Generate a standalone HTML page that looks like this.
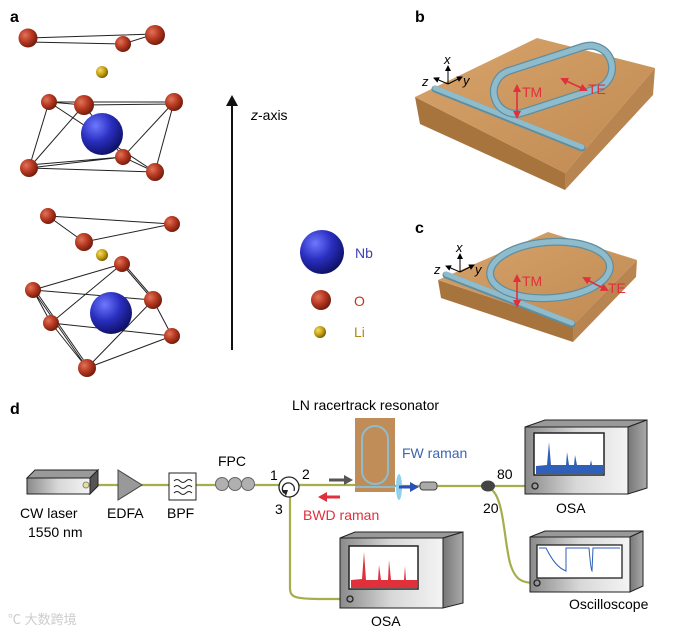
<!DOCTYPE html>
<html><head><meta charset="utf-8"><style>
html,body{margin:0;padding:0;background:#fff;}
svg{display:block;font-family:"Liberation Sans",Arial,sans-serif;}
</style></head><body>
<svg width="676" height="632" viewBox="0 0 676 632" xmlns="http://www.w3.org/2000/svg">
<defs>
<radialGradient id="gO" cx="0.35" cy="0.35" r="0.7"><stop offset="0" stop-color="#e0745a"/><stop offset="0.5" stop-color="#b83a22"/><stop offset="1" stop-color="#6e1a0c"/></radialGradient>
<radialGradient id="gNb" cx="0.35" cy="0.3" r="0.75"><stop offset="0" stop-color="#6e78ff"/><stop offset="0.5" stop-color="#2a2fc0"/><stop offset="1" stop-color="#0c0f60"/></radialGradient>
<radialGradient id="gLi" cx="0.35" cy="0.35" r="0.7"><stop offset="0" stop-color="#f4dc60"/><stop offset="0.6" stop-color="#c09a10"/><stop offset="1" stop-color="#6e5800"/></radialGradient>
<linearGradient id="gFront" x1="0" y1="0" x2="1" y2="0"><stop offset="0" stop-color="#8a8a8a"/><stop offset="0.5" stop-color="#d8d8d8"/><stop offset="1" stop-color="#f4f4f4"/></linearGradient>
<linearGradient id="gSide" x1="0" y1="0" x2="1" y2="0"><stop offset="0" stop-color="#777"/><stop offset="1" stop-color="#aaa"/></linearGradient>
<linearGradient id="gTop" x1="0" y1="0" x2="1" y2="1"><stop offset="0" stop-color="#d7a46c"/><stop offset="1" stop-color="#c08a52"/></linearGradient>
<marker id="ar" markerWidth="8" markerHeight="8" refX="6" refY="4" orient="auto" markerUnits="userSpaceOnUse"><path d="M0,0 L8,4 L0,8 z" fill="#e0303c"/></marker>
<marker id="ak" markerWidth="6" markerHeight="6" refX="5" refY="3" orient="auto" markerUnits="userSpaceOnUse"><path d="M0,0 L6,3 L0,6 z" fill="#000"/></marker>
</defs>

<!-- Panel a -->
<text x="10" y="22" font-size="16" font-weight="bold">a</text>
<g stroke="#222" stroke-width="1" fill="none">
<path d="M28,38 L155,34 L123,44 L28,42"/>
<path d="M49,102 L174,102 M49,102 L84,105 L174,104 M29,168 L155,172 M29,168 L123,157 L155,172 M49,102 L29,168 M84,105 L29,168 M174,102 L155,172 M174,102 L123,157 M49,102 L155,172 M84,105 L123,157 M29,165 L123,157"/>
<path d="M48,216 L84,242 L172,224 L48,216"/>
<path d="M122,264 L33,290 M122,264 L153,300 M124,264 L155,300 M122,264 L51,323 M33,290 L153,300 M33,290 L51,323 M33,290 L87,368 M35,290 L89,368 M51,323 L172,336 M153,300 L172,336 M153,300 L87,368 M172,336 L87,368 M51,323 L87,368"/>
</g>
<circle cx="102" cy="134" r="21" fill="url(#gNb)"/>
<circle cx="111" cy="313" r="21" fill="url(#gNb)"/>
<g fill="url(#gO)">
<circle cx="28" cy="38" r="9.5"/><circle cx="155" cy="35" r="10"/><circle cx="123" cy="44" r="8"/>
<circle cx="49" cy="102" r="8"/><circle cx="84" cy="105" r="10"/><circle cx="174" cy="102" r="9"/><circle cx="29" cy="168" r="9"/><circle cx="123" cy="157" r="8"/><circle cx="155" cy="172" r="9"/>
<circle cx="48" cy="216" r="8"/><circle cx="84" cy="242" r="9"/><circle cx="172" cy="224" r="8"/>
<circle cx="122" cy="264" r="8"/><circle cx="33" cy="290" r="8"/><circle cx="153" cy="300" r="9"/><circle cx="51" cy="323" r="8"/><circle cx="172" cy="336" r="8"/><circle cx="87" cy="368" r="9"/>
<circle cx="321" cy="300" r="10"/>
</g>
<g fill="url(#gLi)"><circle cx="102" cy="72" r="6"/><circle cx="102" cy="255" r="6"/><circle cx="320" cy="332" r="6"/></g>
<circle cx="322" cy="252" r="22" fill="url(#gNb)"/>
<text x="355" y="258" font-size="14" fill="#4040b8">Nb</text>
<text x="354" y="306" font-size="14" fill="#b83a22">O</text>
<text x="354" y="337" font-size="14" fill="#b08a10">Li</text>
<line x1="232" y1="350" x2="232" y2="104" stroke="#111" stroke-width="2"/>
<path d="M226,106 L232,95 L238,106 z" fill="#111"/>
<text x="251" y="120" font-size="14"><tspan font-style="italic">z</tspan>-axis</text>

<!-- Panel b -->
<text x="415" y="22" font-size="16" font-weight="bold">b</text>
<path d="M415,97 L565,173 L565,190 L420,124 z" fill="#a8743e"/>
<path d="M565,173 L655,68 L653,95 L565,190 z" fill="#b88450"/>
<path d="M415,97 L537,38 L655,68 L565,173 z" fill="url(#gTop)"/>
<line x1="435" y1="89" x2="582" y2="148" stroke="#5f8ea0" stroke-width="7" stroke-linecap="round"/>
<line x1="435" y1="88" x2="582" y2="147" stroke="#8fbccd" stroke-width="5" stroke-linecap="round"/>
<g transform="rotate(-18 552 80)">
<rect x="492" y="58" width="122" height="44" rx="22" fill="none" stroke="#5f8ea0" stroke-width="8"/>
<rect x="492" y="58" width="122" height="44" rx="22" fill="none" stroke="#8fbccd" stroke-width="5.5"/>
</g>
<g stroke="#000" stroke-width="1" fill="none"><line x1="448" y1="84" x2="448" y2="66" marker-end="url(#ak)"/><line x1="448" y1="84" x2="434" y2="78" marker-end="url(#ak)"/><line x1="448" y1="84" x2="462" y2="77" marker-end="url(#ak)"/></g>
<text x="444" y="64" font-size="13" font-style="italic">x</text>
<text x="422" y="86" font-size="13" font-style="italic">z</text>
<text x="463" y="85" font-size="13" font-style="italic">y</text>
<g stroke="#e0303c" stroke-width="1.6"><line x1="517" y1="92" x2="517" y2="86" marker-end="url(#ar)"/><line x1="517" y1="92" x2="517" y2="117" marker-end="url(#ar)"/><line x1="575" y1="85" x2="562" y2="79" marker-end="url(#ar)"/><line x1="575" y1="85" x2="586" y2="90" marker-end="url(#ar)"/></g>
<text x="522" y="97" font-size="14" fill="#e0303c">TM</text>
<text x="588" y="94" font-size="14" fill="#e0303c">TE</text>

<!-- Panel c -->
<text x="415" y="233" font-size="16" font-weight="bold">c</text>
<path d="M438,280 L573,325 L573,342 L441,298 z" fill="#a8743e"/>
<path d="M573,325 L637,260 L636,277 L573,342 z" fill="#b88450"/>
<path d="M438,280 L548,232 L637,260 L573,325 z" fill="url(#gTop)"/>
<line x1="446" y1="275" x2="572" y2="324" stroke="#5f8ea0" stroke-width="7" stroke-linecap="round"/>
<line x1="446" y1="274" x2="572" y2="323" stroke="#8fbccd" stroke-width="5" stroke-linecap="round"/>
<ellipse cx="550" cy="270" rx="60" ry="28" transform="rotate(-4 550 270)" fill="none" stroke="#5f8ea0" stroke-width="8"/>
<ellipse cx="550" cy="270" rx="60" ry="28" transform="rotate(-4 550 270)" fill="none" stroke="#8fbccd" stroke-width="5.5"/>
<g stroke="#000" stroke-width="1" fill="none"><line x1="460" y1="272" x2="460" y2="254" marker-end="url(#ak)"/><line x1="460" y1="272" x2="446" y2="266" marker-end="url(#ak)"/><line x1="460" y1="272" x2="474" y2="265" marker-end="url(#ak)"/></g>
<text x="456" y="252" font-size="13" font-style="italic">x</text>
<text x="434" y="274" font-size="13" font-style="italic">z</text>
<text x="475" y="274" font-size="13" font-style="italic">y</text>
<g stroke="#e0303c" stroke-width="1.6"><line x1="517" y1="282" x2="517" y2="276" marker-end="url(#ar)"/><line x1="517" y1="282" x2="517" y2="306" marker-end="url(#ar)"/><line x1="595" y1="284" x2="584" y2="278" marker-end="url(#ar)"/><line x1="595" y1="284" x2="607" y2="290" marker-end="url(#ar)"/></g>
<text x="522" y="286" font-size="14" fill="#e0303c">TM</text>
<text x="608" y="293" font-size="14" fill="#e0303c">TE</text>

<!-- Panel d -->
<text x="10" y="414" font-size="16" font-weight="bold">d</text>
<g stroke="#a6ad4a" stroke-width="2.2" fill="none">
<line x1="88" y1="485" x2="355" y2="485"/>
<line x1="395" y1="486" x2="528" y2="486"/>
<path d="M290,497 L290,588 C290,600 298,599 348,599"/>
<path d="M492,490 C504,500 504,540 510,563 C515,580 522,583 535,583"/>
</g>
<!-- laser -->
<path d="M27,478 L35,470 L98,470 L90,478 z" fill="#9a9a9a" stroke="#222" stroke-width="1"/>
<rect x="27" y="478" width="63" height="16" fill="url(#gFront)" stroke="#222" stroke-width="1"/>
<path d="M90,478 L98,470 L98,486 L90,494 z" fill="#555" stroke="#222" stroke-width="1"/>
<circle cx="86" cy="485" r="3" fill="#e8e090" stroke="#888"/>
<text x="20" y="518" font-size="14">CW laser</text>
<text x="28" y="537" font-size="14">1550 nm</text>
<!-- EDFA -->
<path d="M118,470 L142,485 L118,500 z" fill="#999" stroke="#444"/>
<text x="107" y="518" font-size="14">EDFA</text>
<!-- BPF -->
<rect x="169" y="473" width="27" height="27" fill="#fff" stroke="#222"/>
<g stroke="#222" fill="none" stroke-width="1"><path d="M174,481 q3,-3 6,0 t6,0 t6,0"/><path d="M174,487 q3,-3 6,0 t6,0 t6,0"/><path d="M174,493 q3,-3 6,0 t6,0 t6,0"/></g>
<text x="167" y="518" font-size="14">BPF</text>
<!-- FPC -->
<g fill="#b0b0b0" stroke="#666"><circle cx="222" cy="484" r="6.5"/><circle cx="235" cy="484" r="6.5"/><circle cx="248" cy="484" r="6.5"/></g>
<text x="218" y="466" font-size="14">FPC</text>
<!-- circulator -->
<circle cx="289" cy="487" r="10" fill="#fff" stroke="#222" stroke-width="1.3"/>
<path d="M284,493 A6,6 0 1 1 294,491" fill="none" stroke="#222" stroke-width="1.3"/>
<path d="M282,490 L286,496 L288,490 z" fill="#222"/>
<text x="270" y="480" font-size="14">1</text>
<text x="302" y="479" font-size="14">2</text>
<text x="275" y="514" font-size="14">3</text>
<!-- chip -->
<rect x="355" y="418" width="40" height="74" fill="#c08c58"/>
<rect x="362" y="426" width="26" height="58" rx="13" fill="none" stroke="#8fbccd" stroke-width="2"/>
<line x1="355" y1="487" x2="395" y2="487" stroke="#8fbccd" stroke-width="2"/>
<text x="292" y="410" font-size="14">LN racertrack resonator</text>
<path d="M329,480 L346,480" stroke="#555" stroke-width="3"/><path d="M344,475 L353,480 L344,485 z" fill="#555"/>
<path d="M340,497 L325,497" stroke="#e0303c" stroke-width="3"/><path d="M327,492 L318,497 L327,502 z" fill="#e0303c"/>
<text x="303" y="520" font-size="14" fill="#e0303c">BWD raman</text>
<text x="402" y="458" font-size="14" fill="#3c66b0">FW raman</text>
<ellipse cx="399" cy="487" rx="3" ry="13" fill="#8fd0f0"/>
<path d="M399,487 L412,487" stroke="#2a50b8" stroke-width="3"/><path d="M410,482 L419,487 L410,492 z" fill="#2a50b8"/>
<rect x="420" y="482" width="17" height="8" rx="3" fill="#aaa" stroke="#444"/>
<ellipse cx="488" cy="486" rx="7" ry="5.5" fill="#444"/>
<text x="497" y="479" font-size="14">80</text>
<text x="483" y="513" font-size="14">20</text>
<!-- OSA1 -->
<path d="M525,427 L545,420 L647,420 L628,427 z" fill="#999" stroke="#222"/>
<path d="M628,427 L647,420 L647,488 L628,494 z" fill="url(#gSide)" stroke="#222"/>
<rect x="525" y="427" width="103" height="67" fill="url(#gFront)" stroke="#222"/>
<rect x="534" y="433" width="70" height="42" fill="#fff" stroke="#222" stroke-width="1.5"/>
<path d="M536,474 L536,466 L547,465 L549,442 L551,465 L566,465 L567,452 L569,465 L574,465 L575,455 L577,465 L590,465 L591,460 L592,465 L603,465 L603,474 z" fill="#2f5fb8"/>
<circle cx="535" cy="486" r="3" fill="none" stroke="#222" stroke-width="1.3"/>
<text x="556" y="513" font-size="14">OSA</text>
<!-- OSA2 -->
<path d="M340,538 L355,532 L463,532 L443,538 z" fill="#999" stroke="#222"/>
<path d="M443,538 L463,532 L463,603 L443,608 z" fill="url(#gSide)" stroke="#222"/>
<rect x="340" y="538" width="103" height="70" fill="url(#gFront)" stroke="#222"/>
<rect x="349" y="546" width="69" height="43" fill="#fff" stroke="#222" stroke-width="1.5"/>
<path d="M351,588 L351,580 L362,579 L364,552 L366,580 L378,580 L379,565 L381,580 L388,580 L389,560 L391,580 L404,580 L405,566 L406,580 L417,580 L417,588 z" fill="#e0303c"/>
<circle cx="350" cy="599" r="3" fill="none" stroke="#222" stroke-width="1.3"/>
<text x="371" y="626" font-size="14">OSA</text>
<!-- Oscilloscope -->
<path d="M530,537 L545,531 L643,531 L630,537 z" fill="#999" stroke="#222"/>
<path d="M630,537 L643,531 L643,586 L630,592 z" fill="url(#gSide)" stroke="#222"/>
<rect x="530" y="537" width="100" height="55" fill="url(#gFront)" stroke="#222"/>
<rect x="537" y="545" width="85" height="33" fill="#fff" stroke="#222" stroke-width="1.3"/>
<path d="M539,548 L546,548 C552,560 558,568 566,571 L566,548 L589,548 C590,560 591,570 592,571 L593,548 L620,548" fill="none" stroke="#2f5fb8" stroke-width="1"/>
<circle cx="537" cy="583" r="3" fill="none" stroke="#222" stroke-width="1.3"/>
<text x="569" y="609" font-size="14">Oscilloscope</text>
<text x="8" y="624" font-size="13" fill="#ccc" font-family="'Liberation Sans','Noto Sans CJK SC',sans-serif">℃ 大数跨境</text>
</svg>
</body></html>
